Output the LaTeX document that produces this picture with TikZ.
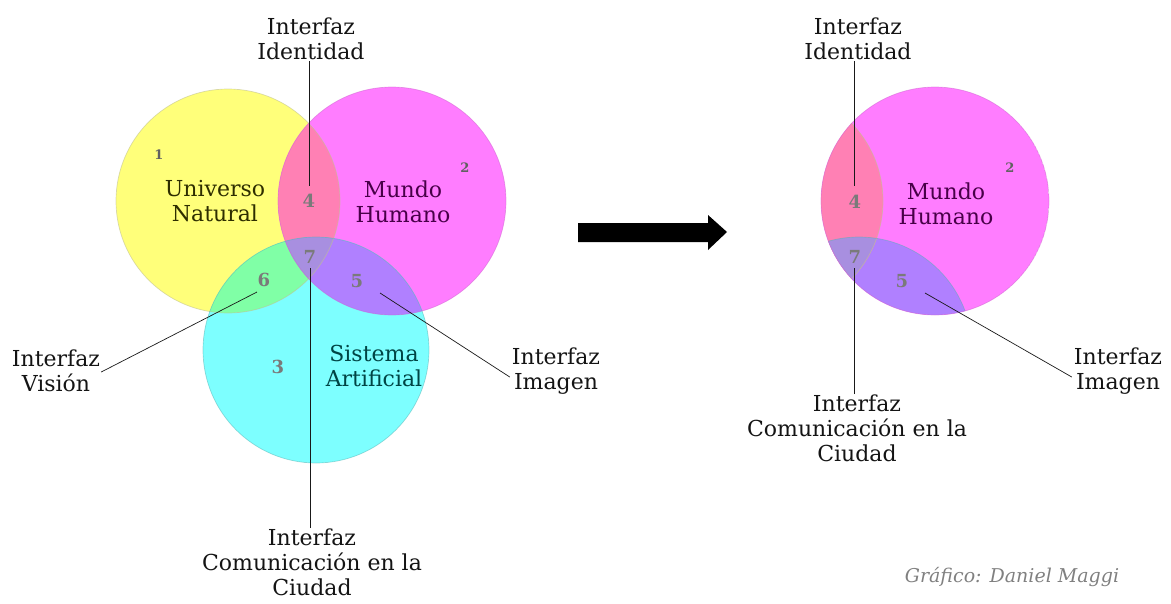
\documentclass[tikz,border=0pt]{standalone}
\usepackage{fontspec}
\setmainfont{DejaVu Serif}

\definecolor{yel}{HTML}{FFFF7A}
\definecolor{mag}{HTML}{FF7DFF}
\definecolor{cya}{HTML}{7DFFFF}
\definecolor{yelmag}{HTML}{FF80B4}
\definecolor{yelcya}{HTML}{80FFA6}
\definecolor{magcya}{HTML}{B080FF}
\definecolor{allthree}{HTML}{A88FE0}
\definecolor{olive}{HTML}{2E2E00}
\definecolor{plum}{HTML}{480048}
\definecolor{teal}{HTML}{004444}

\tikzset{
  lbl/.style={align=center, font=\fontsize{22}{25}\selectfont, text=black!92, inner sep=1pt},
  title/.style={align=center, font=\fontsize{22}{25}\selectfont},
  num/.style={font=\fontsize{18}{18}\selectfont\bfseries, text=black!52},
  smallnum/.style={font=\fontsize{13}{13}\selectfont\bfseries, text=black!62},
  leader/.style={draw=black!90, line width=0.9pt},
}

\begin{document}
\begin{tikzpicture}[x=1pt, y=-1pt]
  \useasboundingbox (0, 0) rectangle (1171, 603);

  % three sets
  \begin{scope}
    \fill[yel] (228, 201) circle[radius=112pt];
    \fill[mag] (392, 201) circle[radius=114pt];
    \fill[cya] (316, 350) circle[radius=113pt];
    \begin{scope}
      \clip (228, 201) circle[radius=112pt];
      \fill[yelmag] (392, 201) circle[radius=114pt];
      \fill[yelcya] (316, 350) circle[radius=113pt];
    \end{scope}
    \begin{scope}
      \clip (392, 201) circle[radius=114pt];
      \fill[magcya] (316, 350) circle[radius=113pt];
      \clip (228, 201) circle[radius=112pt];
      \fill[allthree] (316, 350) circle[radius=113pt];
    \end{scope}
    \draw[yel!60!black!60, line width=0.7pt, opacity=0.6] (228, 201) circle[radius=112pt];
    \draw[mag!80!black, line width=0.7pt, opacity=0.5] (392, 201) circle[radius=114pt];
    \draw[cya!70!black, line width=0.7pt, opacity=0.5] (316, 350) circle[radius=113pt];

    \node[smallnum] (n1L) at (159, 155) {1};
    \node[smallnum] (n2L) at (465, 168) {2};
    \node[num] (n3L) at (278, 367) {3};
    \node[num] (n4L) at (309, 201) {4};
    \node[num] (n5L) at (357, 281) {5};
    \node[num] (n6L) at (264, 280) {6};
    \node[num] (n7L) at (310, 257) {7};

    \node[title, text=olive] (univL) at (215, 201) {Universo\\Natural};
    \node[title, text=plum] (mundoL) at (403, 202) {Mundo\\Humano};
    \node[title, text=teal] (sistL) at (374, 366) {Sistema\\Artificial};

    \node[lbl, anchor=south] (idL) at (311, 61) {Interfaz\\Identidad};
    \node[lbl, anchor=north] (comL) at (312, 528) {Interfaz\\Comunicación en la\\Ciudad};
    \node[lbl] (visL) at (56, 371) {Interfaz\\Visión};
    \node[lbl] (imgL) at (556, 371) {Interfaz\\Imagen};

    \coordinate (p4L) at (309, 186);
    \coordinate (p7L) at (310, 268);
    \coordinate (p6L) at (257, 292);
    \coordinate (p5L) at (380, 293);

    \draw[leader] (idL.south -| p4L) -- (p4L);
    \draw[leader] (comL.north -| p7L) -- (p7L);
    \draw[leader, line width=0.7pt] (visL.east) ++(0, 1) -- (p6L);
    \draw[leader, line width=0.7pt] (imgL.west) ++(-1, 6) -- (p5L);
  \end{scope}

  % arrow between the two pictures
  \fill[black] (578, 223) -- (708, 223) -- (708, 215) -- (727, 232)
    -- (708, 250) -- (708, 242) -- (578, 242) -- cycle;

  % only the human world remains
  \begin{scope}[shift={(543, 0)}]
    \begin{scope}
      \clip (392, 201) circle[radius=114pt];
      \fill[mag] (392, 201) circle[radius=114pt];
      \fill[magcya] (316, 350) circle[radius=113pt];
      \clip (228, 201) circle[radius=112pt];
      \fill[yelmag] (392, 201) circle[radius=114pt];
      \fill[allthree] (316, 350) circle[radius=113pt];
    \end{scope}
    \begin{scope}
      \clip (392, 201) circle[radius=114pt];
      \draw[yel!60!black!60, line width=0.7pt, opacity=0.6] (228, 201) circle[radius=112pt];
      \draw[cya!70!black, line width=0.7pt, opacity=0.5] (316, 350) circle[radius=113pt];
    \end{scope}
    \draw[mag!80!black, line width=0.7pt, opacity=0.5] (392, 201) circle[radius=114pt];

    \node[smallnum] (n2R) at (467, 168) {2};
    \node[num] (n4R) at (312, 202) {4};
    \node[num] (n5R) at (359, 281) {5};
    \node[num] (n7R) at (312, 257) {7};

    \node[title, text=plum] (mundoR) at (403, 204) {Mundo\\Humano};

    \node[lbl, anchor=south] (idR) at (315, 61) {Interfaz\\Identidad};
    \node[lbl, anchor=north] (comR) at (314, 394) {Interfaz\\Comunicación en la\\Ciudad};
    \node[lbl] (imgR) at (575, 371) {Interfaz\\Imagen};

    \coordinate (p4R) at (311, 186);
    \coordinate (p7R) at (311, 268);
    \coordinate (p5R) at (382, 293);

    \draw[leader] (idR.south -| p4R) -- (p4R);
    \draw[leader] (comR.north -| p7R) -- (p7R);
    \draw[leader, line width=0.7pt] (imgR.west) ++(-1, 6) -- (p5R);
  \end{scope}

  \node[font=\fontsize{19}{19}\selectfont\itshape, text=black!50] (credit) at (1012, 577) {Gráfico: Daniel Maggi};
\end{tikzpicture}
\end{document}
